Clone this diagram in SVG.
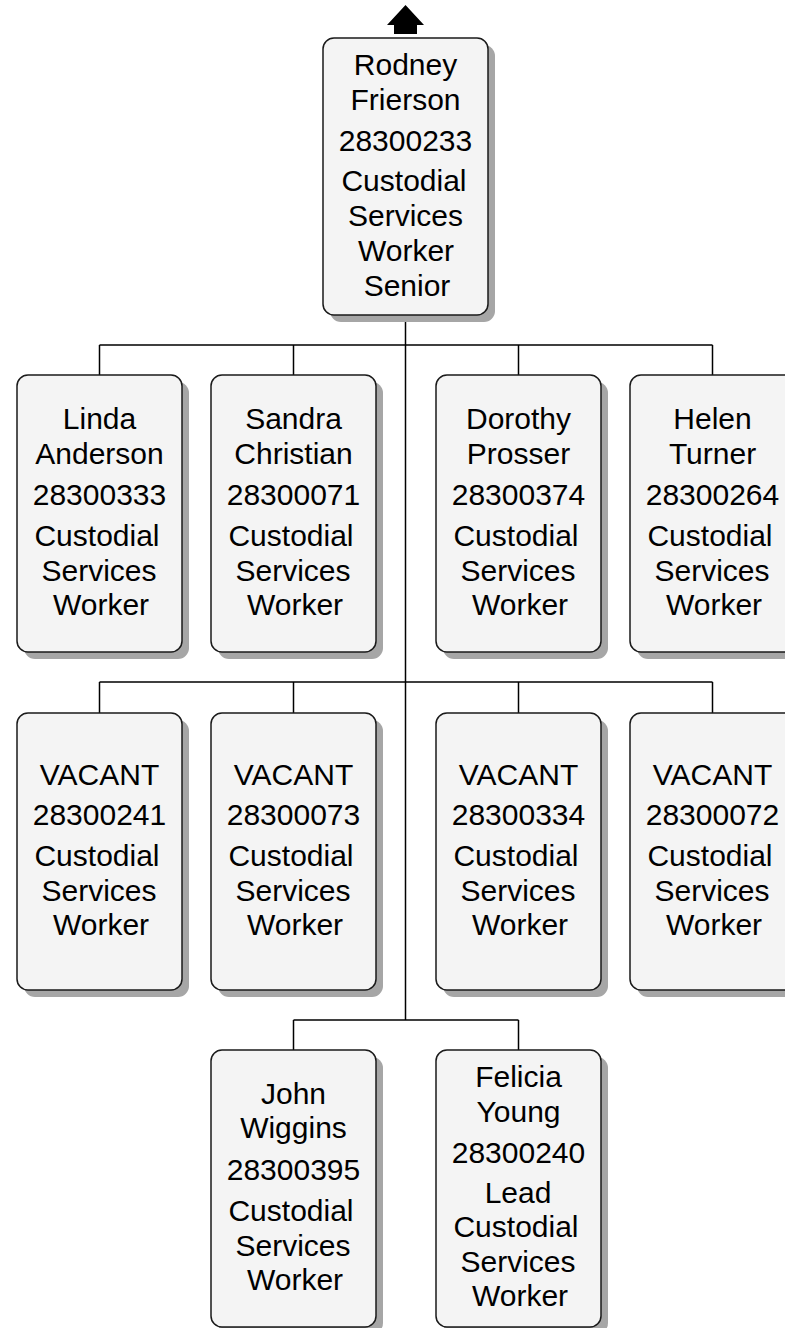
<svg xmlns="http://www.w3.org/2000/svg" width="785" height="1328" viewBox="0 0 785 1328">
<style>
.sh{fill:#a6a6a6}
.bx{fill:#f4f4f4;stroke:#1a1a1a;stroke-width:1.5}
.t{font-family:"Liberation Sans",Arial,sans-serif;font-size:30px;fill:#000;text-anchor:middle}
.c{fill:none;stroke:#000;stroke-width:1.5}
</style>
<defs>
<g id="card">
<rect class="sh" x="7" y="7" width="165" height="277" rx="11"/>
<rect class="bx" x="0" y="0" width="165" height="277" rx="11"/>
</g>
</defs>
<g id="connectors">
<polygon points="405.5,5 424,25 417,25 417,34 394,34 394,25 387,25" fill="#000"/>
<path class="c" d="M405.5 315V1020M99.5 345H712.5M99.5 345V375M293.5 345V375M518.5 345V375M712.5 345V375M99.5 682H712.5M99.5 682V713M293.5 682V713M518.5 682V713M712.5 682V713M293.5 1020H518.5M293.5 1020V1050M518.5 1020V1050"/>
</g>
<g id="n-rodney" transform="translate(323,38)">
<use href="#card"/>
<text class="t" x="82.5" y="37">Rodney</text>
<text class="t" x="82.5" y="72">Frierson</text>
<text class="t" x="82.5" y="113">28300233</text>
<text class="t" x="81" y="153">Custodial</text>
<text class="t" x="82.5" y="188">Services</text>
<text class="t" x="83" y="223">Worker</text>
<text class="t" x="84" y="258">Senior</text>
</g>
<g id="n-linda" transform="translate(17,375)">
<use href="#card"/>
<text class="t" x="82.5" y="54">Linda</text>
<text class="t" x="82.5" y="89">Anderson</text>
<text class="t" x="82.5" y="130">28300333</text>
<text class="t" x="80" y="171">Custodial</text>
<text class="t" x="82" y="206">Services</text>
<text class="t" x="84" y="240">Worker</text>
</g>
<g id="n-sandra" transform="translate(211,375)">
<use href="#card"/>
<text class="t" x="82.5" y="54">Sandra</text>
<text class="t" x="82.5" y="89">Christian</text>
<text class="t" x="82.5" y="130">28300071</text>
<text class="t" x="80" y="171">Custodial</text>
<text class="t" x="82" y="206">Services</text>
<text class="t" x="84" y="240">Worker</text>
</g>
<g id="n-dorothy" transform="translate(436,375)">
<use href="#card"/>
<text class="t" x="82.5" y="54">Dorothy</text>
<text class="t" x="82.5" y="89">Prosser</text>
<text class="t" x="82.5" y="130">28300374</text>
<text class="t" x="80" y="171">Custodial</text>
<text class="t" x="82" y="206">Services</text>
<text class="t" x="84" y="240">Worker</text>
</g>
<g id="n-helen" transform="translate(630,375)">
<use href="#card"/>
<text class="t" x="82.5" y="54">Helen</text>
<text class="t" x="82.5" y="89">Turner</text>
<text class="t" x="82.5" y="130">28300264</text>
<text class="t" x="80" y="171">Custodial</text>
<text class="t" x="82" y="206">Services</text>
<text class="t" x="84" y="240">Worker</text>
</g>
<g id="n-vacant1" transform="translate(17,713)">
<use href="#card"/>
<text class="t" x="82.5" y="72">VACANT</text>
<text class="t" x="82.5" y="112">28300241</text>
<text class="t" x="80" y="153">Custodial</text>
<text class="t" x="82" y="188">Services</text>
<text class="t" x="84" y="222">Worker</text>
</g>
<g id="n-vacant2" transform="translate(211,713)">
<use href="#card"/>
<text class="t" x="82.5" y="72">VACANT</text>
<text class="t" x="82.5" y="112">28300073</text>
<text class="t" x="80" y="153">Custodial</text>
<text class="t" x="82" y="188">Services</text>
<text class="t" x="84" y="222">Worker</text>
</g>
<g id="n-vacant3" transform="translate(436,713)">
<use href="#card"/>
<text class="t" x="82.5" y="72">VACANT</text>
<text class="t" x="82.5" y="112">28300334</text>
<text class="t" x="80" y="153">Custodial</text>
<text class="t" x="82" y="188">Services</text>
<text class="t" x="84" y="222">Worker</text>
</g>
<g id="n-vacant4" transform="translate(630,713)">
<use href="#card"/>
<text class="t" x="82.5" y="72">VACANT</text>
<text class="t" x="82.5" y="112">28300072</text>
<text class="t" x="80" y="153">Custodial</text>
<text class="t" x="82" y="188">Services</text>
<text class="t" x="84" y="222">Worker</text>
</g>
<g id="n-john" transform="translate(211,1050)">
<use href="#card"/>
<text class="t" x="82.5" y="54">John</text>
<text class="t" x="82.5" y="88">Wiggins</text>
<text class="t" x="82.5" y="130">28300395</text>
<text class="t" x="80" y="171">Custodial</text>
<text class="t" x="82" y="206">Services</text>
<text class="t" x="84" y="240">Worker</text>
</g>
<g id="n-felicia" transform="translate(436,1050)">
<use href="#card"/>
<text class="t" x="82.5" y="37">Felicia</text>
<text class="t" x="82.5" y="72">Young</text>
<text class="t" x="82.5" y="113">28300240</text>
<text class="t" x="82" y="153">Lead</text>
<text class="t" x="80" y="187">Custodial</text>
<text class="t" x="82" y="222">Services</text>
<text class="t" x="84" y="256">Worker</text>
</g>
</svg>
